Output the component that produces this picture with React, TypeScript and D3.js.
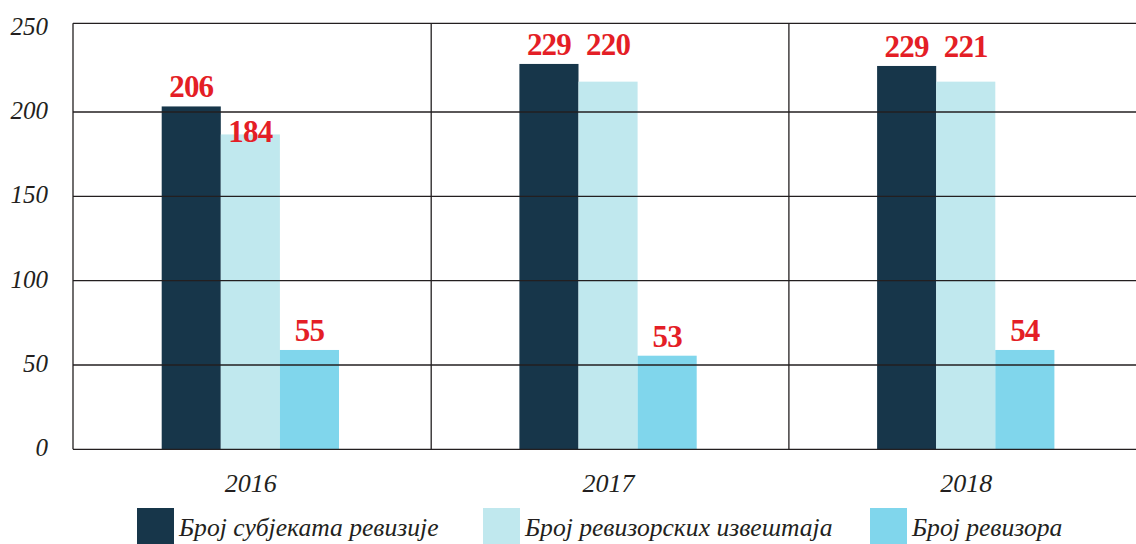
import React from "react";
import * as d3 from "d3";

const years = ["2016", "2017", "2018"];
const seriesNames = ["Број субјеката ревизије", "Број ревизорских извештаја", "Број ревизора"];
const subjectsBars = [203.3, 228.5, 227.3];
const reportsBars = [186.7, 218, 218];
const auditorsBars = [58.9, 55.5, 58.9];
const subjectsLabels = ["206", "229", "229"];
const reportsLabels = ["184", "220", "221"];
const auditorsLabels = ["55", "53", "54"];
const yTicks = [0, 50, 100, 150, 200, 250];

const colors = ["#17364a", "#c0e8ee", "#80d6ec"];
const ink = "#231f20";
const red = "#e41e26";

export default function App() {
  const W = 1136, H = 544;
  const left = 73, bandW = 357.7;
  const top = 23.3, bottom = 449.3;
  const x0 = d3.scaleBand<string>().domain(years).range([left, left + bandW * years.length]).padding(0);
  const y = d3.scaleLinear().domain([0, 252.6]).range([bottom, top]);
  const barW = 59.1;
  const off = (x0.bandwidth() - barW * 3) / 2 - 1.5;
  const x1 = d3.scaleBand<string>().domain(seriesNames).range([off, off + barW * 3]).padding(0);

  const bars = [subjectsBars, reportsBars, auditorsBars];
  const labels = [subjectsLabels, reportsLabels, auditorsLabels];
  const serif = "Liberation Serif";

  const legendX = [137, 483, 870];

  return (
    <svg width={W} height={H} style={{ position: "absolute", left: 0, top: 0, background: "#fff" }}>
      {years.map((yr, i) => (
        <g key={yr} transform={`translate(${x0(yr)},0)`}>
          {seriesNames.map((s, k) => (
            <rect key={s} x={x1(s)} y={y(bars[k][i])} width={x1.bandwidth()} height={y(0) - y(bars[k][i])} fill={colors[k]} />
          ))}
        </g>
      ))}
      {yTicks.filter(t => t > 0 && t < 250).map(t => (
        <line key={t} x1={left} x2={W} y1={y(t)} y2={y(t)} stroke={ink} strokeWidth={1.3} />
      ))}
      <line x1={left} x2={W} y1={top} y2={top} stroke={ink} strokeWidth={1.3} />
      <line x1={left} x2={W} y1={bottom} y2={bottom} stroke={ink} strokeWidth={1.3} />
      {years.map((yr, i) => (
        <line key={yr} x1={x0(yr)! + (i === 0 ? 0 : 0.5)} x2={x0(yr)! + (i === 0 ? 0 : 0.5)} y1={top} y2={bottom} stroke={ink} strokeWidth={1.3} />
      ))}
      {yTicks.map(t => (
        <text key={t} x={48} y={y(t) + 7} textAnchor="end" fontFamily={serif} fontStyle="italic" fontSize={25} fill={ink}>{t}</text>
      ))}
      {years.map(yr => (
        <text key={yr} x={x0(yr)! + x0.bandwidth() / 2 - 1} y={491.5} textAnchor="middle" fontFamily={serif} fontStyle="italic" fontSize={26} fill={ink}>{yr}</text>
      ))}
      {years.map((yr, i) => {
        const ys = bars.map(b => y(b[i]) - 9);
        if (Math.abs(ys[1] - ys[0]) < 30) ys[1] = Math.min(ys[0], ys[1]) + (ys[1] - ys[0] > 20 ? 45 : 0);
        return (
          <g key={yr} transform={`translate(${x0(yr)},0)`}>
            {seriesNames.map((s, k) => (
              <text key={s} x={x1(s)! + x1.bandwidth() / 2} y={ys[k]} textAnchor="middle" fontFamily={serif} fontWeight="bold" fontSize={31} letterSpacing={-0.8} fill={red}>{labels[k][i]}</text>
            ))}
          </g>
        );
      })}
      {seriesNames.map((s, k) => (
        <g key={s} transform={`translate(${legendX[k]},508)`}>
          <rect x={0} y={0} width={37} height={37} fill={colors[k]} />
          <text x={42} y={28} fontFamily={serif} fontStyle="italic" fontSize={25.6} fill={ink}>{s}</text>
        </g>
      ))}
    </svg>
  );
}
